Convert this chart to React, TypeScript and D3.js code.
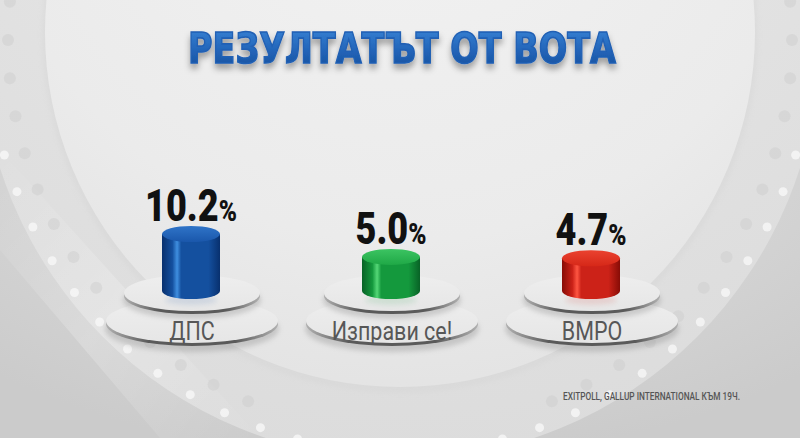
import React from "react";
import { scalePoint, scaleLinear, range } from "d3";

const parties = ["ДПС", "Изправи се!", "ВМРО"];
const values = [10.2, 5.0, 4.7];
const valueLabels = ["10.2", "5.0", "4.7"];
const title = "РЕЗУЛТАТЪТ ОТ ВОТА";
const source = "EXITPOLL, GALLUP INTERNATIONAL КЪМ 19Ч.";

const W = 800;
const H = 438;

const palette = [
  { dark: "#08306e", mid: "#14509f", light: "#3f8fe0", top: "#1a57ab", topLight: "#2f74c8" },
  { dark: "#086226", mid: "#14993d", light: "#55d877", top: "#1fa846", topLight: "#3cc462" },
  { dark: "#870c06", mid: "#cc2218", light: "#ff5642", top: "#d62818", topLight: "#ea4230" },
];

const FONT = "Roboto, 'DejaVu Sans', sans-serif";

export default function App() {
  const x = scalePoint<string>().domain(parties).range([191, 591]);
  const h = scaleLinear().domain([0, 10.2]).range([12, 57]);

  const baseY = 291;
  const rx = 29;
  const ry = 8;

  // background dots along the big arcs
  const cx0 = 400;
  const cy0 = 40;
  const dotsGray = range(-2, 13).flatMap((i) => {
    const a = (Math.PI / 180) * (i * 5.6);
    const r = 392;
    return [
      { x: cx0 - r * Math.cos(a), y: cy0 + r * Math.sin(a) },
      { x: cx0 + r * Math.cos(a), y: cy0 + r * Math.sin(a) },
    ];
  });
  const dotsWhite = range(3, 16).flatMap((i) => {
    const a = (Math.PI / 180) * (i * 5.4);
    const r = 412;
    return [
      { x: cx0 - r * Math.cos(a), y: cy0 + r * Math.sin(a) },
      { x: cx0 + r * Math.cos(a), y: cy0 + r * Math.sin(a) },
    ];
  });

  return (
    <svg
      width={W}
      height={H}
      style={{ position: "absolute", left: 0, top: 0, display: "block" }}
    >
      <defs>
        <radialGradient id="bg" cx="50%" cy="30%" r="75%">
          <stop offset="0%" stopColor="#e4e4e4" />
          <stop offset="100%" stopColor="#cbcbcb" />
        </radialGradient>
        <radialGradient id="disc" cx="50%" cy="20%" r="85%">
          <stop offset="0%" stopColor="#f3f3f3" />
          <stop offset="70%" stopColor="#ebebeb" />
          <stop offset="100%" stopColor="#e2e2e2" />
        </radialGradient>
        <radialGradient id="ring" cx="50%" cy="10%" r="90%">
          <stop offset="0%" stopColor="#ebebeb" />
          <stop offset="100%" stopColor="#dcdcdc" />
        </radialGradient>
        <linearGradient id="titleGrad" x1="0" y1="0" x2="0" y2="1">
          <stop offset="0%" stopColor="#3a86d8" />
          <stop offset="55%" stopColor="#2264b8" />
          <stop offset="100%" stopColor="#174c98" />
        </linearGradient>
        <linearGradient id="padTop" x1="0" y1="0" x2="0" y2="1">
          <stop offset="0%" stopColor="#eeeeee" />
          <stop offset="100%" stopColor="#e6e6e6" />
        </linearGradient>
        <linearGradient id="padEdge" x1="0" y1="0" x2="1" y2="0">
          <stop offset="0%" stopColor="#b0b0b0" />
          <stop offset="25%" stopColor="#5a5a5a" />
          <stop offset="75%" stopColor="#5a5a5a" />
          <stop offset="100%" stopColor="#b0b0b0" />
        </linearGradient>
        <linearGradient id="streak" x1="0" y1="0" x2="1" y2="1">
          <stop offset="0%" stopColor="#ffffff" stopOpacity="0" />
          <stop offset="50%" stopColor="#ffffff" stopOpacity="0.35" />
          <stop offset="100%" stopColor="#ffffff" stopOpacity="0" />
        </linearGradient>
        {palette.map((p, i) => (
          <linearGradient key={`b${i}`} id={`body${i}`} x1="0" y1="0" x2="1" y2="0">
            <stop offset="0%" stopColor={p.dark} />
            <stop offset="18%" stopColor={p.mid} />
            <stop offset="26%" stopColor={p.light} />
            <stop offset="33%" stopColor={p.mid} />
            <stop offset="80%" stopColor={p.mid} />
            <stop offset="100%" stopColor={p.dark} />
          </linearGradient>
        ))}
        {palette.map((p, i) => (
          <linearGradient key={`t${i}`} id={`top${i}`} x1="0" y1="0" x2="0" y2="1">
            <stop offset="0%" stopColor={p.topLight} />
            <stop offset="100%" stopColor={p.top} />
          </linearGradient>
        ))}
        <filter id="titleShadow" x="-10%" y="-30%" width="120%" height="180%">
          <feDropShadow dx="0" dy="5" stdDeviation="3" floodColor="#000" floodOpacity="0.35" />
        </filter>
        <filter id="soft" x="-20%" y="-50%" width="140%" height="200%">
          <feGaussianBlur stdDeviation="2.5" />
        </filter>
      </defs>

      {/* background */}
      <rect x={0} y={0} width={W} height={H} fill="url(#bg)" />
      <circle cx={cx0} cy={cy0} r={420} fill="url(#ring)" />
      <circle cx={cx0} cy={cy0 - 5} r={358} fill="#d4d4d4" opacity={0.4} filter="url(#soft)" />
      <circle cx={cx0} cy={cy0 - 8} r={355} fill="url(#disc)" />
      <path d="M0,250 L160,438 L260,438 L0,150 Z" fill="url(#streak)" opacity={0.6} />
      {dotsGray.map((d, i) => (
        <circle key={`g${i}`} cx={d.x} cy={d.y} r={6} fill="#cdcdcd" opacity={0.45} />
      ))}
      {dotsWhite.map((d, i) => (
        <circle key={`w${i}`} cx={d.x} cy={d.y} r={4.5} fill="#fbfbfb" opacity={0.7} />
      ))}

      {/* title */}
      <text
        x={W / 2 + 2}
        y={63}
        textAnchor="middle"
        fontFamily="'DejaVu Sans', sans-serif"
        fontWeight={700}
        fontSize={42}
        textLength={428}
        lengthAdjust="spacingAndGlyphs"
        fill="url(#titleGrad)"
        stroke="#2060b4"
        strokeWidth={1.6}
        filter="url(#titleShadow)"
      >
        {title}
      </text>

      {parties.map((p, i) => {
        const cx = x(p) as number;
        const topY = baseY - h(values[i]);
        const lower = { cy: 321, rx: 86, ry: 22 };
        const upper = { cy: 293, rx: 68, ry: 18 };
        return (
          <g key={p}>
            {/* lower disc */}
            <ellipse cx={cx + 1} cy={lower.cy + 8} rx={lower.rx + 1} ry={lower.ry + 1} fill="#8a8a8a" opacity={0.35} filter="url(#soft)" />
            <ellipse cx={cx + 1} cy={lower.cy + 3} rx={lower.rx} ry={lower.ry} fill="url(#padEdge)" />
            <ellipse cx={cx + 1} cy={lower.cy} rx={lower.rx} ry={lower.ry} fill="url(#padTop)" />
            {/* upper disc */}
            <ellipse cx={cx + 1} cy={upper.cy + 7} rx={upper.rx + 1} ry={upper.ry + 1} fill="#8a8a8a" opacity={0.35} filter="url(#soft)" />
            <ellipse cx={cx + 1} cy={upper.cy + 3} rx={upper.rx} ry={upper.ry} fill="url(#padEdge)" />
            <ellipse cx={cx + 1} cy={upper.cy} rx={upper.rx} ry={upper.ry} fill="url(#padTop)" />
            {/* reflection */}
            <ellipse cx={cx} cy={baseY + 9} rx={rx - 3} ry={5} fill={palette[i].mid} opacity={0.12} filter="url(#soft)" />
            {/* cylinder */}
            <path
              d={`M${cx - rx},${topY} L${cx - rx},${baseY} A${rx},${ry} 0 0 0 ${cx + rx},${baseY} L${cx + rx},${topY} Z`}
              fill={`url(#body${i})`}
            />
            <ellipse cx={cx} cy={topY} rx={rx} ry={ry} fill={`url(#top${i})`} />
            {/* value */}
            <g transform={`translate(${cx},${topY - ry - 5}) scale(0.82,1)`}>
              <text textAnchor="middle" fontFamily={FONT} fontWeight={900} fill="#111">
                <tspan fontSize={44}>{valueLabels[i]}</tspan>
                <tspan fontSize={30}>%</tspan>
              </text>
            </g>
            {/* party label */}
            <g transform={`translate(${cx + 1},340) scale(0.86,1)`}>
              <text textAnchor="middle" fontFamily={FONT} fontSize={25} fill="#575757">
                {p}
              </text>
            </g>
          </g>
        );
      })}

      <text
        x={740}
        y={400}
        textAnchor="end"
        fontFamily={FONT}
        fontWeight={500}
        fontSize={10}
        fill="#555"
        textLength={177}
        lengthAdjust="spacingAndGlyphs"
      >
        {source}
      </text>
    </svg>
  );
}
